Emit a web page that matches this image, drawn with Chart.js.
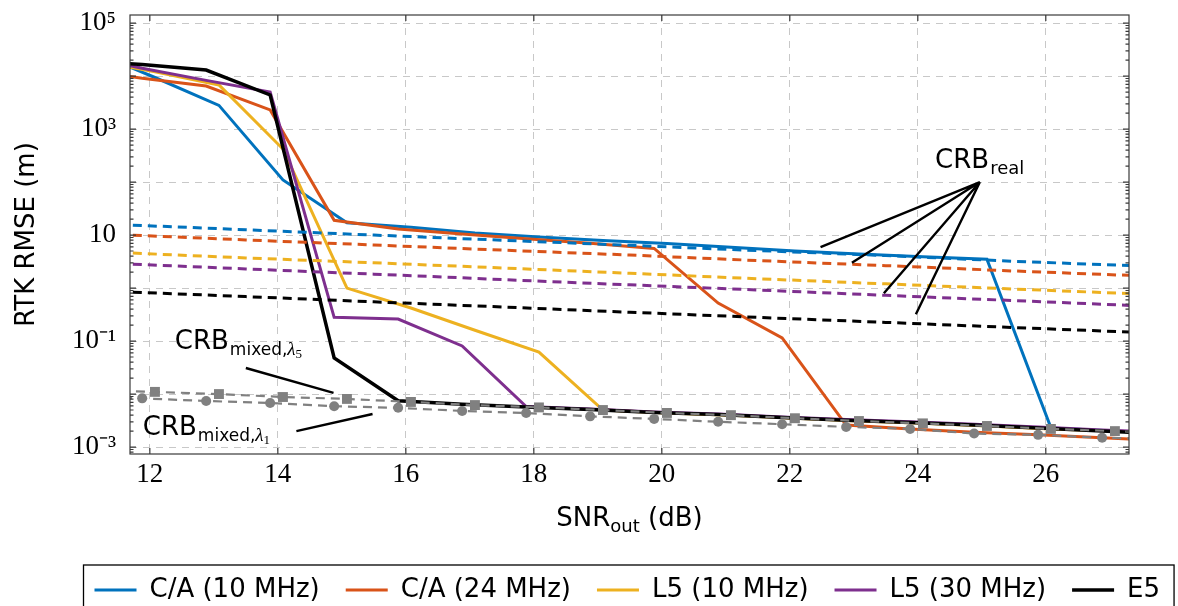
<!DOCTYPE html>
<html lang="en">
<head>
<meta charset="UTF-8">
<title>RTK RMSE vs SNR</title>
<style>
  html, body { margin: 0; padding: 0; background: #fff; }
  .chart-box { position: relative; width: 1178px; height: 606px; }
</style>
</head>
<body>
<div class="chart-box"><canvas id="rmseChart"></canvas></div>
<script src="https://cdn.jsdelivr.net/npm/chart.js"></script>
<script>
// SNR_out grids (dB)
const snrA = [10.88, 11.88, 12.88, 13.88, 14.88, 15.88, 16.88, 17.88, 18.88, 19.88, 20.88, 21.88, 22.88, 23.88, 24.88, 25.88, 26.88, 27.88];
const snrB = [11.08, 12.08, 13.08, 14.08, 15.08, 16.08, 17.08, 18.08, 19.08, 20.08, 21.08, 22.08, 23.08, 24.08, 25.08, 26.08, 27.08, 28.08];
const snrCrb = [11.5, 13.5, 15.5, 17.5, 19.5, 21.5, 23.5, 25.5, 27.5];

// RTK RMSE (m)
const rmseCA10 = [3.0e4, 9.4e3, 2.8e3, 110, 17, 14, 11, 9.2, 7.9, 6.9, 5.9, 5.0, 4.4, 3.9, 3.5, 0.0023, 0.0020, 0.0018];
const rmseCA24 = [1.38e4, 9.1e3, 6.5e3, 2.3e3, 19, 13, 10.5, 8.5, 7.0, 5.6, 0.52, 0.115, 0.0026, 0.0022, 0.0019, 0.0017, 0.0015, 0.0013];
const rmseL510 = [2.0e4, 1.2e4, 6.8e3, 420, 1.0, 0.42, 0.16, 0.062, 0.0050, 0.0044, 0.0040, 0.0035, 0.0031, 0.0028, 0.0025, 0.0022, 0.0020, 0.0018];
const rmseL530 = [2.6e4, 1.4e4, 8.3e3, 5.0e3, 0.28, 0.26, 0.081, 0.0058, 0.0052, 0.0046, 0.0042, 0.0037, 0.0033, 0.0030, 0.0027, 0.0024, 0.0021, 0.0019];
const rmseE5 = [2.0e4, 1.65e4, 1.3e4, 4.4e3, 0.048, 0.0075, 0.0064, 0.0057, 0.0051, 0.0045, 0.0041, 0.0036, 0.0032, 0.0029, 0.0026, 0.0023, 0.0020, 0.0018];

// CRB real (dotted)
const crbCA10 = [15.8, 12.6, 10.0, 8.0, 6.4, 5.1, 4.1, 3.2, 2.6];
const crbCA24 = [10.2, 8.1, 6.5, 5.2, 4.2, 3.3, 2.65, 2.1, 1.7];
const crbL510 = [4.7, 3.7, 3.0, 2.4, 1.9, 1.5, 1.2, 0.96, 0.77];
const crbL530 = [2.9, 2.3, 1.83, 1.45, 1.15, 0.92, 0.73, 0.58, 0.46];
const crbE5 = [0.86, 0.69, 0.55, 0.44, 0.35, 0.28, 0.225, 0.18, 0.145];

// CRB mixed (grey)
const crbMixL5 = [0.012, 0.0110, 0.0100, 0.0088, 0.0081, 0.0071, 0.0062, 0.0056, 0.0050, 0.0044, 0.0040, 0.0035, 0.0031, 0.0028, 0.0025, 0.0022, 0.0020, 0.0018];
const crbMixL1 = [0.0091, 0.0083, 0.0074, 0.0068, 0.0059, 0.0055, 0.0048, 0.0044, 0.0038, 0.0034, 0.0030, 0.0027, 0.0024, 0.0022, 0.0018, 0.0017, 0.0015, 0.0014];

// axes
const xTicks = [12, 14, 16, 18, 20, 22, 24, 26];
const yDecades = [-4, -3, -2, -1, 0, 1, 2, 3, 4, 5];
const yLabelExps = [-3, -1, 1, 3, 5];
const seriesNames = ['C/A (10 MHz)', 'C/A (24 MHz)', 'L5 (10 MHz)', 'L5 (30 MHz)', 'E5'];

const colBlue = '#0072BD', colOrange = '#D95319', colYellow = '#EDB120', colPurple = '#7E2F8E', colBlack = '#000000', colGrey = '#808080';

const pts = (xs, ys) => xs.map((v, i) => ({ x: v, y: ys[i] }));

const yMin = 7.4e-4, yMax = 1.42e5;

const supMap = { '-': '\u207B', '0': '\u2070', '1': '\u00B9', '2': '\u00B2', '3': '\u00B3', '4': '\u2074', '5': '\u2075', '6': '\u2076', '7': '\u2077', '8': '\u2078', '9': '\u2079' };
function powLabel(e) {
  if (e === 1) return '10';
  return '10' + String(e).split('').map(c => supMap[c]).join('');
}
const isDecade = v => { const l = Math.log10(v); return Math.abs(l - Math.round(l)) < 1e-6; };

function solid(label, xs, ys, color, order, width) {
  return { label, data: pts(xs, ys), borderColor: color, backgroundColor: color, borderWidth: width || 3,
    pointRadius: 0, tension: 0, order };
}
function dotted(xs, ys, color, order) {
  return { label: 'crb', data: pts(xs, ys), borderColor: color, backgroundColor: color, borderWidth: 3,
    borderDash: [9, 6], pointRadius: 0, tension: 0, order };
}

// draw a text made of runs (main + subscripts)
function drawRuns(ctx, x0, y0, runs) {
  let cx = x0;
  runs.forEach(r => {
    ctx.font = r.font;
    ctx.fillText(r.text, cx, y0 + (r.dy || 0));
    cx += ctx.measureText(r.text).width + (r.gap || 0);
  });
}

// move the one-row legend so it starts under the plot like the original
const legendPlace = {
  id: 'legendPlace',
  afterLayout(chart) {
    const lg = chart.legend;
    if (!lg || !lg.lineWidths) return;
    const p = lg.options.labels.padding;
    lg.left = 94 - p;
    lg.right = lg.left + p + lg.lineWidths[0] + 1;
  }
};

const frameAndTicks = {
  id: 'frameAndTicks',
  afterDatasetsDraw(chart) {
    const { ctx, chartArea: a, scales: { x, y } } = chart;
    ctx.save();
    ctx.strokeStyle = '#3a3a3a';
    ctx.lineWidth = 1.2;
    ctx.beginPath();
    y.ticks.forEach(t => {
      const len = isDecade(t.value) ? 6 : 3.5;
      const py = y.getPixelForValue(t.value);
      ctx.moveTo(a.left, py); ctx.lineTo(a.left + len, py);
      ctx.moveTo(a.right, py); ctx.lineTo(a.right - len, py);
    });
    x.ticks.forEach(t => {
      const px = x.getPixelForValue(t.value);
      ctx.moveTo(px, a.bottom); ctx.lineTo(px, a.bottom - 6);
      ctx.moveTo(px, a.top); ctx.lineTo(px, a.top + 6);
    });
    ctx.stroke();
    ctx.strokeRect(a.left, a.top, a.right - a.left, a.bottom - a.top);
    ctx.restore();
  }
};

const notes = {
  id: 'notes',
  afterDraw(chart) {
    const { ctx, chartArea: a, scales: { x, y } } = chart;
    const P = (sx, sy) => [x.getPixelForValue(sx), y.getPixelForValue(sy)];
    const sans = '"DejaVu Sans", sans-serif';
    ctx.save();
    ctx.strokeStyle = '#000';
    ctx.lineWidth = 2.4;
    ctx.beginPath();
    const apex = P(24.97, 100);
    [[22.48, 5.9], [22.97, 3.0], [23.47, 0.8], [23.97, 0.32]].forEach(([sx, sy]) => {
      const p = P(sx, sy);
      ctx.moveTo(apex[0], apex[1]); ctx.lineTo(p[0], p[1]);
    });
    let p1 = P(13.5, 0.031), p2 = P(14.87, 0.0105);
    ctx.moveTo(p1[0], p1[1]); ctx.lineTo(p2[0], p2[1]);
    p1 = P(14.29, 0.0020); p2 = P(15.48, 0.0042);
    ctx.moveTo(p1[0], p1[1]); ctx.lineTo(p2[0], p2[1]);
    ctx.stroke();

    ctx.fillStyle = '#000';
    ctx.textAlign = 'left';
    ctx.textBaseline = 'alphabetic';
    let t = P(24.27, 184);
    drawRuns(ctx, t[0], t[1], [
      { text: 'CRB', font: '26px ' + sans, gap: 1 },
      { text: 'real', font: '18px ' + sans, dy: 6 }
    ]);
    t = P(12.39, 0.0706);
    drawRuns(ctx, t[0], t[1], [
      { text: 'CRB', font: '26px ' + sans, gap: 1 },
      { text: 'mixed,', font: '17px ' + sans, dy: 6 },
      { text: '\u03BB', font: 'italic 19px "Liberation Serif", serif', dy: 6 },
      { text: '5', font: '13px "Liberation Serif", serif', dy: 9 }
    ]);
    t = P(11.89, 0.00168);
    drawRuns(ctx, t[0], t[1], [
      { text: 'CRB', font: '26px ' + sans, gap: 1 },
      { text: 'mixed,', font: '17px ' + sans, dy: 6 },
      { text: '\u03BB', font: 'italic 19px "Liberation Serif", serif', dy: 6 },
      { text: '1', font: '13px "Liberation Serif", serif', dy: 9 }
    ]);

    // x axis title with subscript
    const runs = [
      { text: 'SNR', font: '26px ' + sans },
      { text: 'out', font: '18px ' + sans, dy: 6 },
      { text: ' (dB)', font: '26px ' + sans }
    ];
    let w = 0;
    runs.forEach(r => { ctx.font = r.font; w += ctx.measureText(r.text).width; });
    drawRuns(ctx, (a.left + a.right) / 2 - w / 2, a.bottom + 72, runs);

    // legend frame
    const lg = chart.legend;
    if (lg && lg.legendHitBoxes && lg.legendHitBoxes.length) {
      const hb = lg.legendHitBoxes;
      const last = hb[hb.length - 1];
      const left = hb[0].left - 11;
      const right = last.left + last.width + 14;
      const top = hb[0].top - 12;
      ctx.lineWidth = 1.3;
      ctx.strokeRect(left, top, right - left, 80);
    }
    ctx.restore();
  }
};

const yTickVals = [];
yDecades.forEach(e => {
  [1, 2, 3, 4, 5, 6, 7, 8, 9].forEach(m => {
    const v = m * Math.pow(10, e);
    if (v >= yMin && v <= yMax) yTickVals.push(v);
  });
});

new Chart(document.getElementById('rmseChart'), {
  type: 'line',
  data: {
    datasets: [
      solid(seriesNames[0], snrB, rmseCA10, colBlue, 8),
      solid(seriesNames[1], snrA, rmseCA24, colOrange, 7),
      solid(seriesNames[2], snrB, rmseL510, colYellow, 6),
      solid(seriesNames[3], snrA, rmseL530, colPurple, 5),
      solid(seriesNames[4], snrA, rmseE5, colBlack, 4, 3.5),
      dotted(snrCrb, crbCA10, colBlue, 3),
      dotted(snrCrb, crbCA24, colOrange, 3),
      dotted(snrCrb, crbL510, colYellow, 3),
      dotted(snrCrb, crbL530, colPurple, 3),
      dotted(snrCrb, crbE5, colBlack, 3),
      { label: 'mix5', data: pts(snrB, crbMixL5), borderColor: colGrey, backgroundColor: colGrey, borderWidth: 2.2,
        borderDash: [9, 6], pointStyle: 'rect', pointRadius: 7, pointBorderWidth: 0, pointBackgroundColor: colGrey, tension: 0, order: 0 },
      { label: 'mix1', data: pts(snrA, crbMixL1), borderColor: colGrey, backgroundColor: colGrey, borderWidth: 2.2,
        borderDash: [9, 6], pointStyle: 'circle', pointRadius: 5, pointBorderWidth: 0, pointBackgroundColor: colGrey, tension: 0, order: 1 }
    ]
  },
  options: {
    responsive: true,
    maintainAspectRatio: false,
    animation: false,
    events: [],
    layout: { padding: { top: 15, right: 49, bottom: -7, left: 0 } },
    scales: {
      x: {
        type: 'linear',
        min: 11.69,
        max: 27.3,
        bounds: 'data',
        afterBuildTicks: s => { s.ticks = xTicks.map(v => ({ value: v })); },
        afterFit: s => { s.height = 97; },
        ticks: {
          autoSkip: false,
          maxRotation: 0,
          padding: 5,
          color: '#000',
          font: { family: '"Liberation Serif", serif', size: 27 },
          callback: v => String(v)
        },
        grid: { color: '#c8c8c8', lineWidth: 1, drawTicks: false },
        border: { display: false, dash: [7, 6] }
      },
      y: {
        type: 'logarithmic',
        min: yMin,
        max: yMax,
        bounds: 'data',
        afterBuildTicks: s => { s.ticks = yTickVals.map(v => ({ value: v, major: isDecade(v) })); },
        afterFit: s => { s.width = 130; },
        ticks: {
          autoSkip: false,
          padding: 0,
          color: '#000',
          font: { family: '"Liberation Serif", serif', size: 27, lineHeight: 1 },
          callback: v => {
            const e = Math.round(Math.log10(v));
            return (isDecade(v) && yLabelExps.includes(e)) ? powLabel(e) : '';
          }
        },
        grid: {
          color: c => (c.tick && isDecade(c.tick.value)) ? '#c8c8c8' : 'rgba(0,0,0,0)',
          lineWidth: 1,
          drawTicks: true,
          tickLength: 14,
          tickColor: 'rgba(0,0,0,0)'
        },
        border: { display: false, dash: [7, 6] },
        title: {
          display: true,
          text: 'RTK RMSE (m)',
          color: '#000',
          padding: { top: 12, bottom: 0 },
          font: { family: '"DejaVu Sans", sans-serif', size: 26 }
        }
      }
    },
    plugins: {
      tooltip: { enabled: false },
      legend: {
        position: 'bottom',
        labels: {
          usePointStyle: true,
          pointStyle: 'line',
          pointStyleWidth: 42,
          boxWidth: 42,
          padding: 26,
          color: '#000',
          font: { family: '"DejaVu Sans", sans-serif', size: 26 },
          filter: item => item.datasetIndex < 5,
          sort: (a, b) => a.datasetIndex - b.datasetIndex
        }
      }
    }
  },
  plugins: [legendPlace, frameAndTicks, notes]
});
</script>
</body>
</html>
